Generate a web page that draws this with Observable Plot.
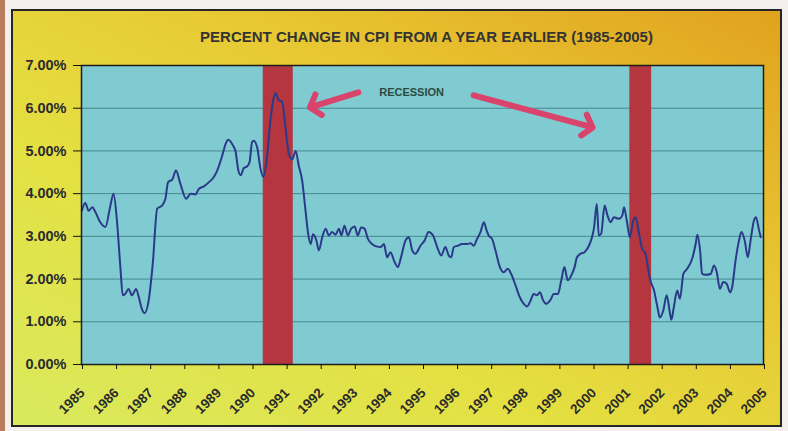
<!DOCTYPE html>
<html><head><meta charset="utf-8">
<script src="https://cdn.jsdelivr.net/npm/d3@7"></script>
<script src="https://cdn.jsdelivr.net/npm/@observablehq/plot@0.6"></script>
<style>
html,body{margin:0;padding:0;background:#f2efec;}
#wrap{position:relative;width:788px;height:431px;overflow:hidden;background:#f2efec;}
#edge{position:absolute;left:0;top:0;width:5px;height:431px;background:#b97c5c;}
#panel{position:absolute;left:11px;top:9px;width:767px;height:414px;border:2px solid #262626;
  background:linear-gradient(to top right,#d9ea5e 0%,#e4e042 35%,#e8c733 65%,#e1a21e 100%);}
#chart{position:absolute;left:0;top:0;}
#chart svg{background:transparent;overflow:visible;}
</style></head><body>
<div id="wrap"><div id="edge"></div><div id="panel"></div><div id="chart"></div></div>
<script>
const title = "PERCENT CHANGE IN CPI FROM A YEAR EARLIER (1985-2005)";
const xTicks = [1985,1986,1987,1988,1989,1990,1991,1992,1993,1994,1995,1996,1997,1998,1999,2000,2001,2002,2003,2004,2005];
const yTicks = [0,1,2,3,4,5,6,7];

const years = [
1985.01,1985.11,1985.21,1985.32,1985.40,1985.55,1985.70,1985.84,1985.94,1986.04,
1986.14,1986.21,1986.28,1986.38,1986.48,1986.60,1986.68,1986.77,1986.85,1986.97,
1987.09,1987.22,1987.36,1987.46,1987.54,1987.66,1987.77,1987.90,1988.07,1988.20,
1988.34,1988.44,1988.59,1988.74,1988.88,1988.98,1989.13,1989.23,1989.30,1989.44,
1989.52,1989.60,1989.67,1989.76,1989.86,1989.93,
1990.00,1990.05,1990.15,1990.25,1990.33,1990.43,1990.52,1990.62,1990.69,1990.79,
1990.88,1990.98,1991.08,1991.18,1991.28,1991.37,1991.47,1991.57,1991.64,1991.72,
1991.79,1991.89,1991.96,1992.06,1992.16,1992.25,1992.35,1992.45,1992.55,1992.62,
1992.71,1992.81,1992.91,1993.01,1993.10,1993.20,1993.30,1993.40,1993.52,1993.67,
1993.77,1993.87,1993.96,1994.06,1994.18,1994.28,1994.37,1994.50,1994.60,1994.70,
1994.79,1994.94,
1995.06,1995.18,1995.31,1995.43,1995.55,1995.67,1995.77,1995.84,1995.92,1996.03,
1996.16,1996.31,1996.41,1996.50,1996.60,1996.70,1996.80,1996.88,1996.94,1997.04,
1997.14,1997.27,1997.38,1997.50,1997.60,1997.73,1997.85,1997.97,1998.07,1998.17,
1998.26,1998.36,1998.44,1998.54,1998.63,1998.75,1998.85,1998.97,1999.07,1999.16,
1999.26,1999.36,1999.46,1999.53,1999.63,1999.75,1999.88,1999.97,
2000.03,2000.11,2000.17,2000.24,2000.34,2000.42,2000.52,2000.61,2000.76,2000.86,
2000.91,2000.99,2001.08,2001.18,2001.25,2001.35,2001.44,2001.54,2001.67,2001.79,
2001.89,2001.96,2002.06,2002.16,2002.26,2002.30,2002.37,2002.47,2002.55,2002.65,
2002.76,2002.91,2003.01,2003.06,2003.14,2003.20,2003.30,2003.45,2003.55,2003.63,
2003.72,2003.82,2003.92,2004.02,2004.08,2004.18,2004.28,2004.35,2004.45,2004.54,
2004.62,2004.72,2004.78,2004.87,2004.92
];
const cpi = [
3.60,3.78,3.60,3.68,3.58,3.33,3.22,3.69,4.00,3.36,
2.28,1.62,1.65,1.77,1.62,1.77,1.58,1.30,1.20,1.50,
2.36,3.65,3.72,3.88,4.27,4.33,4.54,4.23,3.88,4.00,
3.98,4.11,4.17,4.27,4.39,4.54,4.90,5.17,5.26,5.13,
4.98,4.54,4.43,4.60,4.64,4.74,
5.20,5.24,5.09,4.58,4.39,4.78,5.56,6.18,6.35,6.18,
6.16,5.56,4.93,4.80,5.00,4.66,4.31,3.60,3.10,2.82,
3.05,2.90,2.67,2.98,3.18,3.02,3.10,3.04,3.18,3.02,
3.25,3.02,3.18,3.23,3.02,3.21,3.18,2.94,2.82,2.76,
2.75,2.82,2.51,2.63,2.40,2.28,2.51,2.90,2.98,2.67,
2.59,2.78,
2.90,3.10,3.02,2.75,2.55,2.75,2.55,2.51,2.75,2.78,
2.82,2.82,2.84,2.78,2.94,3.10,3.33,3.14,3.02,2.94,
2.67,2.28,2.16,2.24,2.12,1.85,1.58,1.42,1.36,1.50,
1.65,1.62,1.69,1.50,1.42,1.51,1.65,1.65,1.97,2.28,
1.97,2.08,2.28,2.51,2.59,2.63,2.78,2.98,
3.20,3.76,3.02,3.06,3.72,3.50,3.33,3.45,3.41,3.49,
3.68,3.37,2.98,3.37,3.45,3.06,2.71,2.59,2.00,1.73,
1.34,1.10,1.26,1.62,1.19,1.05,1.34,1.73,1.54,2.12,
2.24,2.48,2.82,3.04,2.67,2.12,2.10,2.12,2.32,2.16,
1.77,1.93,1.89,1.69,1.81,2.43,2.90,3.10,2.90,2.51,
2.90,3.37,3.45,3.14,2.98
];

const recessionStart = [1990.33, 2001.08];
const recessionEnd = [1991.21, 2001.72];

const noteLabel = ["RECESSION"];
const noteX = [1994.68];
const noteY = [6.37];
const arrowX1 = [1993.12, 1996.50];
const arrowY1 = [6.37, 6.30];
const arrowX2 = [1991.70, 1999.99];
const arrowY2 = [6.02, 5.55];

const data = years.map((y, i) => ({year: y, cpi: cpi[i]}));
const recessions = recessionStart.map((s, i) => ({start: s, end: recessionEnd[i]}));
const arrows = arrowX1.map((x, i) => ({x1: x, y1: arrowY1[i], x2: arrowX2[i], y2: arrowY2[i]}));
const notes = noteLabel.map((t, i) => ({text: t, x: noteX[i], y: noteY[i]}));

const chart = Plot.plot({
  width: 788, height: 431,
  marginLeft: 81, marginRight: 25, marginTop: 65, marginBottom: 67,
  style: {background: "transparent", fontFamily: "'Liberation Sans', Arial, sans-serif", overflow: "visible"},
  x: {domain: [1985, 2005], axis: null},
  y: {domain: [0, 7], axis: null},
  marks: [
    Plot.frame({fill: "#80cbd2"}),
    Plot.gridY(yTicks.filter(d => d > 0 && d < 7), {stroke: "#3d7c82", strokeOpacity: 0.85, strokeWidth: 1}),
    Plot.rect(recessions, {x1: "start", x2: "end", fill: "#b5363f"}),
    Plot.line(data, {x: "year", y: "cpi", stroke: "#2b3a88", strokeWidth: 2, curve: "monotone-x"}),
    Plot.frame({stroke: "#1c1c1c", strokeWidth: 1.5}),
    Plot.axisY({ticks: yTicks, tickSize: 8, tickPadding: 7, tickFormat: d => d.toFixed(2) + "%",
      fontSize: 14.5, fontWeight: "bold", fill: "#2b2b2b", stroke: "#111"}),
    Plot.axisX({ticks: xTicks, tickSize: 5, tickPadding: 21, dx: 1, tickRotate: -45, tickFormat: d => String(d),
      fontSize: 13.5, fontWeight: "bold", fill: "#2b2b2b", stroke: "#111"}),
    Plot.arrow(arrows, {x1: "x1", y1: "y1", x2: "x2", y2: "y2", stroke: "#d8446c", strokeWidth: 6,
      headLength: 3.5, headAngle: 100}),
    Plot.text(notes, {x: "x", y: "y", text: "text", fontSize: 11, fontWeight: "bold", fill: "#2e4a3c"}),
    Plot.text([title], {frameAnchor: "top", dy: -34, dx: 4, fontSize: 15, fontWeight: "bold", fill: "#333"})
  ]
});
document.getElementById("chart").appendChild(chart);
</script>
</body></html>
